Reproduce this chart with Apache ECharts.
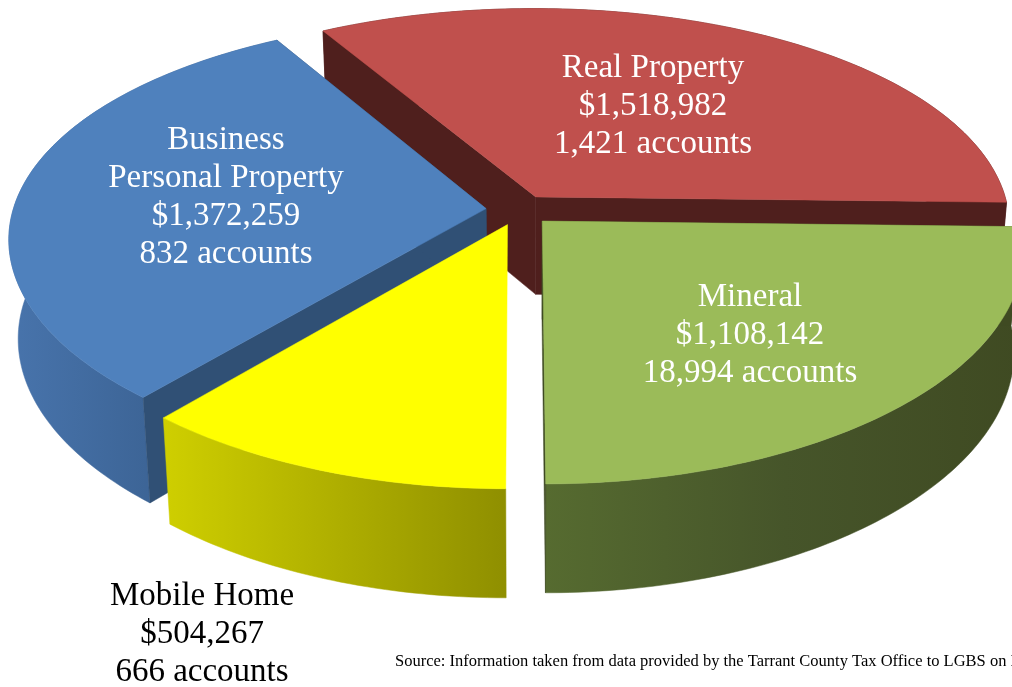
<!DOCTYPE html>
<html>
<head>
<meta charset="utf-8">
<style>html,body{margin:0;padding:0;background:#fff;overflow:hidden}#c{width:1012px;height:687px}</style>
<script src="https://cdn.jsdelivr.net/npm/echarts@6/dist/echarts.min.js"></script>
</head>
<body>
<div id="c"></div>
<script>
// Data
const categories = ['Real Property', 'Mineral', 'Mobile Home', 'Business\nPersonal Property'];
const taxValues = [1518982, 1108142, 504267, 1372259];
const accountCounts = [1421, 18994, 666, 832];
const sourceNote = 'Source: Information taken from data provided by the Tarrant County Tax Office to LGBS on I';

// Styling, indexed like categories
const topColors = ['#C0504D', '#9BBB59', '#FFFF00', '#4F81BD'];
const sideColors = ['#4F1F1D', '#3F4A22', '#2C4D75', '#305075'];
const rimStops = [
  ['#4F1F1D', '#4F1F1D', '#4F1F1D'],
  ['#566B30', '#46552A', '#3F4A22'],
  ['#CFCF00', '#AFAF00', '#8F8F00'],
  ['#4874AC', '#3D6597', '#335A88']
];
const sideShown = [true, true, false, true];
const labelAnchors = [[653, 104], [750, 333], [202, 632], [226, 195]];
const labelColors = ['#fff', '#fff', '#000', '#fff'];
const drawOrder = [0, 3, 2, 1];

// Projection of the pie plane
const view = {cx: 519, cy: 210, rx: 473, ry: 220, perspX: 0.13, perspY: 0.149, explode: 0.07, depth: 98, startDeg: -30, lowCx: 528, lowScale: 0.982};
const total = taxValues.reduce((a, b) => a + b, 0);
let cum = 0;
const spans = taxValues.map(v => {
  const a0 = view.startDeg + cum / total * 360;
  cum += v;
  return [a0, view.startDeg + cum / total * 360];
});

function project(U, V, low) {
  const sx = 1 / (1 - view.perspX * V), sy = 1 / (1 - view.perspY * V);
  let x = view.cx + view.rx * U * sx;
  let y = view.cy + view.ry * V * sy;
  if (low) {
    x = view.lowCx + (x - view.lowCx) * view.lowScale;
    y += view.depth * (1 + 0.6 * (sy - 1));
  }
  return [x, y];
}

function renderItem(params, api) {
  const i = api.value(0);
  const [a0, a1] = spans[i];
  const mid = (a0 + a1) / 2 * Math.PI / 180;
  const ox = view.explode * Math.sin(mid), oy = -view.explode * Math.cos(mid);
  const rimT = [], rimB = [];
  for (let a = a0; ; a += 1) {
    const d = Math.min(a, a1) * Math.PI / 180;
    const U = ox + Math.sin(d), V = oy - Math.cos(d);
    rimT.push(project(U, V, false));
    rimB.push(project(U, V, true));
    if (a >= a1) break;
  }
  const apexT = project(ox, oy, false), apexB = project(ox, oy, true);
  const children = [];
  const poly = (points, fill) => ({type: 'polygon', shape: {points}, style: {fill, stroke: fill, lineWidth: 0.5}, silent: true});
  children.push(poly(rimT.concat(rimB.slice().reverse()), {
    type: 'linear', x: 0, y: 0, x2: 1, y2: 0,
    colorStops: [{offset: 0, color: rimStops[i][0]}, {offset: 0.5, color: rimStops[i][1]}, {offset: 1, color: rimStops[i][2]}]
  }));
  if (sideShown[i]) {
    children.push(poly([apexT, rimT[0], rimB[0], apexB], sideColors[i]));
    children.push(poly([apexT, rimT[rimT.length - 1], rimB[rimB.length - 1], apexB], sideColors[i]));
  }
  children.push(poly([apexT].concat(rimT), topColors[i]));
  const text = categories[i] + '\n$' + taxValues[i].toLocaleString('en-US') + '\n' + accountCounts[i].toLocaleString('en-US') + ' accounts';
  children.push({
    type: 'text', silent: true,
    style: {
      text, x: labelAnchors[i][0], y: labelAnchors[i][1] + 2.5,
      align: 'center', verticalAlign: 'middle',
      font: '33px "Liberation Serif"', lineHeight: 38, fill: labelColors[i]
    }
  });
  return {type: 'group', children};
}

const chart = echarts.init(document.getElementById('c'), null, {renderer: 'canvas'});
chart.setOption({
  animation: false,
  backgroundColor: '#fff',
  title: {
    text: sourceNote, left: 395, top: 653, padding: 0,
    textStyle: {fontFamily: 'Liberation Serif', fontSize: 16.5, fontWeight: 'normal', color: '#000'}
  },
  series: [{
    type: 'custom',
    coordinateSystem: 'none',
    renderItem,
    silent: true,
    data: drawOrder.map(i => [i, taxValues[i]])
  }]
});
</script>
</body>
</html>
